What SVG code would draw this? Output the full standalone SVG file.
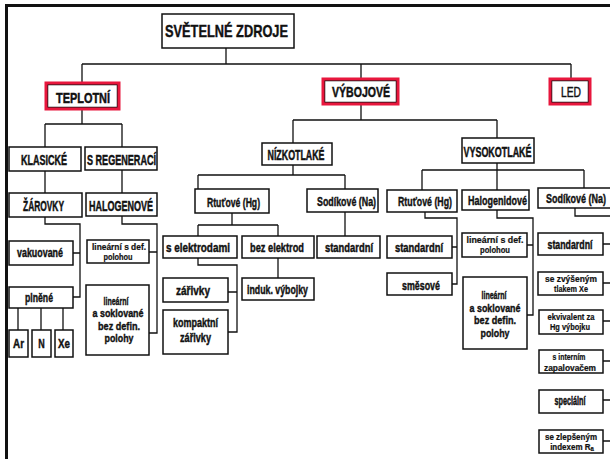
<svg xmlns="http://www.w3.org/2000/svg" width="610" height="459" viewBox="0 0 610 459">
<style>
.bg{fill:#fff}
.frame{fill:none;stroke:#111;stroke-width:3}
.box{fill:#fff;stroke:#111;stroke-width:1.5}
.red{fill:none;stroke:#e8173d;stroke-width:3}
.c{fill:none;stroke:#111;stroke-width:1.3}
text{font-family:"Liberation Sans",Arial,sans-serif;fill:#111;stroke:#111;stroke-width:0.3;text-anchor:middle;font-weight:bold}
.ti{font-size:12px}
.h{font-size:9px}
.t{font-size:9px}
.m{font-size:8.5px}
.s{font-size:8px;stroke-width:0.2}
.n{font-weight:normal}
</style>
<rect class="bg" x="0" y="0" width="610" height="459"/>
<path class="frame" d="M5,5.5 H610 M6.5,5 V459"/>

<g id="connectors">
<path class="c" d="M226,48 V64 M82,64 H571 M82,64 V83 M361,64 V79 M571,64 V79"/>
<path class="c" d="M82,109 V124 M45,124 H122 M45,124 V147 M122,124 V147 M45,171 V193 M122,170 V193"/>
<path class="c" d="M45,217 V224 H80 V297 H73 M80,253 H73 M18,308 V330 M41,308 V330 M63,308 V330"/>
<path class="c" d="M122,216 V224 H157 V333 H149 M157,252 H149"/>
<path class="c" d="M361,104 V120 M293,120 H497 M293,120 V143 M497,120 V138"/>
<path class="c" d="M293,165 V175 M198,175 H345 M198,175 V189 M345,175 V189"/>
<path class="c" d="M232,213 V225 M198,225 H278 M198,225 V236 M278,225 V236 M345,212 V236"/>
<path class="c" d="M198,258 V265 H237 V332 H228 M237,292 H228 M278,258 V278"/>
<path class="c" d="M497,163 V170 M422,170 H584 M422,170 V190 M497,170 V190 M584,170 V188"/>
<path class="c" d="M425,212 V218 H457 V284 H452 M457,247 H452"/>
<path class="c" d="M497,210 V218 H533 V315 H527 M533,245 H527"/>
<path class="c" d="M575,208 V216 H610 M603,244 H610 M603,283 H610 M603,321 H610 M603,361 H610 M603,400 H610 M603,441 H610"/>
</g>

<g id="svetelne-zdroje">
<rect class="box" x="162" y="14" width="132" height="34"/>
<text class="ti" transform="matrix(1,0,0,1.38,226.5,36.5)" textLength="123" lengthAdjust="spacingAndGlyphs">SVĚTELNÉ ZDROJE</text>
</g>

<g id="teplotni">
<rect class="box" x="47.5" y="84.5" width="70" height="23"/>
<rect class="red" x="46" y="83" width="73" height="26"/>
<text class="h" transform="matrix(1,0,0,1.55,83,103)" textLength="54" lengthAdjust="spacingAndGlyphs">TEPLOTNÍ</text>
</g>

<g id="vybojove">
<rect class="box" x="324.5" y="80.5" width="72" height="22"/>
<rect class="red" x="323" y="79" width="75" height="25"/>
<text class="h" transform="matrix(1,0,0,1.55,361,97)" textLength="58" lengthAdjust="spacingAndGlyphs">VÝBOJOVÉ</text>
</g>

<g id="led">
<rect class="box" x="551.5" y="80.5" width="37" height="22"/>
<rect class="red" x="550" y="79" width="40" height="25"/>
<text class="h n" transform="matrix(1,0,0,1.55,571,97)" textLength="20" lengthAdjust="spacingAndGlyphs">LED</text>
</g>

<g id="klasicke">
<rect class="box" x="9" y="147" width="72" height="24"/>
<text class="h" transform="matrix(1,0,0,1.55,44,164.5)" textLength="46" lengthAdjust="spacingAndGlyphs">KLASICKÉ</text>
</g>

<g id="s-regeneraci">
<rect class="box" x="85" y="147" width="72" height="23"/>
<text class="h" transform="matrix(1,0,0,1.55,121.5,164.5)" textLength="69" lengthAdjust="spacingAndGlyphs">S REGENERACÍ</text>
</g>

<g id="zarovky">
<rect class="box" x="9" y="193" width="73" height="24"/>
<text class="h" transform="matrix(1,0,0,1.55,43.5,211)" textLength="41" lengthAdjust="spacingAndGlyphs">ŽÁROVKY</text>
</g>

<g id="halogenove">
<rect class="box" x="86" y="193" width="71" height="23"/>
<text class="h" transform="matrix(1,0,0,1.55,121,211)" textLength="64" lengthAdjust="spacingAndGlyphs">HALOGENOVÉ</text>
</g>

<g id="vakuovane">
<rect class="box" x="9" y="241" width="64" height="24"/>
<text class="t" transform="matrix(1,0,0,1.5,40,257)" textLength="46" lengthAdjust="spacingAndGlyphs">vakuované</text>
</g>

<g id="plnene">
<rect class="box" x="9" y="287" width="64" height="21"/>
<text class="t" transform="matrix(1,0,0,1.5,39,302)" textLength="28" lengthAdjust="spacingAndGlyphs">plněné</text>
</g>

<g id="ar">
<rect class="box" x="9" y="330" width="19" height="27"/>
<text class="t" transform="matrix(1,0,0,1.5,18.5,348)" textLength="11" lengthAdjust="spacingAndGlyphs">Ar</text>
</g>
<g id="n">
<rect class="box" x="32" y="330" width="19" height="27"/>
<text class="t" transform="matrix(1,0,0,1.5,41.5,348)">N</text>
</g>
<g id="xe">
<rect class="box" x="55" y="330" width="18" height="27"/>
<text class="t" transform="matrix(1,0,0,1.5,64,348)" textLength="12" lengthAdjust="spacingAndGlyphs">Xe</text>
</g>

<g id="linearni-def-t">
<rect class="box" x="87" y="240" width="62" height="23"/>
<text class="s" transform="matrix(1,0,0,1.1,119,249.5)" textLength="54" lengthAdjust="spacingAndGlyphs">lineární s def.</text>
<text class="s" transform="matrix(1,0,0,1.1,118,259.8)" textLength="29" lengthAdjust="spacingAndGlyphs">polohou</text>
</g>

<g id="linearni-sokl-t">
<rect class="box" x="86" y="285" width="63" height="70"/>
<text class="m" transform="matrix(1,0,0,1.3,116,304.5)" textLength="25" lengthAdjust="spacingAndGlyphs">lineární</text>
<text class="m" transform="matrix(1,0,0,1.3,118,317)" textLength="51" lengthAdjust="spacingAndGlyphs">a soklované</text>
<text class="m" transform="matrix(1,0,0,1.3,119,329.5)" textLength="42" lengthAdjust="spacingAndGlyphs">bez defin.</text>
<text class="m" transform="matrix(1,0,0,1.3,119,342)" textLength="29" lengthAdjust="spacingAndGlyphs">polohy</text>
</g>

<g id="nizkotlake">
<rect class="box" x="262" y="143" width="70" height="22"/>
<text class="h" transform="matrix(1,0,0,1.55,296,159.5)" textLength="57" lengthAdjust="spacingAndGlyphs">NÍZKOTLAKÉ</text>
</g>

<g id="rtutove-nt">
<rect class="box" x="195" y="189" width="74" height="24"/>
<text class="t" transform="matrix(1,0,0,1.5,233.5,206.5)" textLength="53" lengthAdjust="spacingAndGlyphs">Rtuťové (Hg)</text>
</g>

<g id="sodikove-nt">
<rect class="box" x="307" y="189" width="71" height="23"/>
<text class="t" transform="matrix(1,0,0,1.5,346.5,205.5)" textLength="59" lengthAdjust="spacingAndGlyphs">Sodíkové (Na)</text>
</g>

<g id="s-elektrodami">
<rect class="box" x="163" y="236" width="74" height="22"/>
<text class="t" transform="matrix(1,0,0,1.5,198,252)" textLength="64" lengthAdjust="spacingAndGlyphs">s elektrodami</text>
</g>

<g id="bez-elektrod">
<rect class="box" x="242" y="236" width="72" height="22"/>
<text class="t" transform="matrix(1,0,0,1.5,277,252)" textLength="54" lengthAdjust="spacingAndGlyphs">bez elektrod</text>
</g>

<g id="standardni-nt">
<rect class="box" x="317" y="236" width="63" height="22"/>
<text class="t" transform="matrix(1,0,0,1.5,349,252)" textLength="48" lengthAdjust="spacingAndGlyphs">standardní</text>
</g>

<g id="zarivky">
<rect class="box" x="163" y="278" width="65" height="24"/>
<text class="t" transform="matrix(1,0,0,1.5,193,294.5)" textLength="34" lengthAdjust="spacingAndGlyphs">zářivky</text>
</g>

<g id="induk-vybojky">
<rect class="box" x="242" y="278" width="72" height="22"/>
<text class="t" transform="matrix(1,0,0,1.5,277.5,294)" textLength="61" lengthAdjust="spacingAndGlyphs">induk. výbojky</text>
</g>

<g id="kompaktni-zarivky">
<rect class="box" x="163" y="310" width="65" height="44"/>
<text class="t" transform="matrix(1,0,0,1.5,195.5,327)" textLength="45" lengthAdjust="spacingAndGlyphs">kompaktní</text>
<text class="t" transform="matrix(1,0,0,1.5,195.5,341.5)" textLength="31" lengthAdjust="spacingAndGlyphs">zářivky</text>
</g>

<g id="vysokotlake">
<rect class="box" x="462" y="138" width="72" height="25"/>
<text class="h" transform="matrix(1,0,0,1.55,497.5,156.5)" textLength="68" lengthAdjust="spacingAndGlyphs">VYSOKOTLAKÉ</text>
</g>

<g id="rtutove-vt">
<rect class="box" x="387" y="190" width="70" height="22"/>
<text class="t" transform="matrix(1,0,0,1.5,425,205.5)" textLength="54" lengthAdjust="spacingAndGlyphs">Rtuťové (Hg)</text>
</g>

<g id="halogenidove">
<rect class="box" x="462" y="190" width="67" height="20"/>
<text class="t" transform="matrix(1,0,0,1.5,497.5,204.5)" textLength="59" lengthAdjust="spacingAndGlyphs">Halogenidové</text>
</g>

<g id="sodikove-vt">
<path class="box" d="M611,188 H538 V208 H611"/>
<text class="t" transform="matrix(1,0,0,1.5,546,203)" style="text-anchor:start" textLength="60" lengthAdjust="spacingAndGlyphs">Sodíkové (Na)</text>
</g>

<g id="standardni-vt">
<rect class="box" x="387" y="236" width="65" height="22"/>
<text class="t" transform="matrix(1,0,0,1.5,419,252)" textLength="48" lengthAdjust="spacingAndGlyphs">standardní</text>
</g>

<g id="smesove">
<rect class="box" x="387" y="273" width="65" height="22"/>
<text class="t" transform="matrix(1,0,0,1.5,421,289.5)" textLength="38" lengthAdjust="spacingAndGlyphs">směsové</text>
</g>

<g id="linearni-def-v">
<rect class="box" x="462" y="233" width="65" height="24"/>
<text class="s" transform="matrix(1,0,0,1.1,495,243)" textLength="57" lengthAdjust="spacingAndGlyphs">lineární s def.</text>
<text class="s" transform="matrix(1,0,0,1.1,495,253.3)" textLength="30" lengthAdjust="spacingAndGlyphs">polohou</text>
</g>

<g id="linearni-sokl-v">
<rect class="box" x="463" y="277" width="64" height="72"/>
<text class="m" transform="matrix(1,0,0,1.3,494,299)" textLength="25" lengthAdjust="spacingAndGlyphs">lineární</text>
<text class="m" transform="matrix(1,0,0,1.3,495,311.5)" textLength="51" lengthAdjust="spacingAndGlyphs">a soklované</text>
<text class="m" transform="matrix(1,0,0,1.3,495,324)" textLength="42" lengthAdjust="spacingAndGlyphs">bez defin.</text>
<text class="m" transform="matrix(1,0,0,1.3,495,336.5)" textLength="29" lengthAdjust="spacingAndGlyphs">polohy</text>
</g>

<g id="standardni-na">
<rect class="box" x="538" y="233" width="65" height="22"/>
<text class="t" transform="matrix(1,0,0,1.5,570,249)" textLength="45" lengthAdjust="spacingAndGlyphs">standardní</text>
</g>

<g id="zvysenym-tlakem">
<rect class="box" x="538" y="272" width="65" height="23"/>
<text class="s" transform="matrix(1,0,0,1.1,571,282)" textLength="52" lengthAdjust="spacingAndGlyphs">se zvýšeným</text>
<text class="s" transform="matrix(1,0,0,1.1,571,292.3)" textLength="34" lengthAdjust="spacingAndGlyphs">tlakem Xe</text>
</g>

<g id="ekvivalent">
<rect class="box" x="539" y="310" width="64" height="24"/>
<text class="s" transform="matrix(1,0,0,1.1,571,320)" textLength="47" lengthAdjust="spacingAndGlyphs">ekvivalent za</text>
<text class="s" transform="matrix(1,0,0,1.1,570,330.3)" textLength="40" lengthAdjust="spacingAndGlyphs">Hg výbojku</text>
</g>

<g id="interni-zapalovac">
<rect class="box" x="539" y="350" width="64" height="23"/>
<text class="s" transform="matrix(1,0,0,1.1,569,360)" textLength="33" lengthAdjust="spacingAndGlyphs">s interním</text>
<text class="s" transform="matrix(1,0,0,1.1,570,370.5)" textLength="52" lengthAdjust="spacingAndGlyphs">zapalovačem</text>
</g>

<g id="specialni">
<rect class="box" x="539" y="390" width="64" height="23"/>
<text class="t" style="font-size:7.5px" transform="matrix(1,0,0,1.6,570,405)" textLength="31" lengthAdjust="spacingAndGlyphs">speciální</text>
</g>

<g id="zlepsenym-indexem">
<rect class="box" x="539" y="430" width="64" height="23"/>
<text class="s" transform="matrix(1,0,0,1.1,571,440)" textLength="52" lengthAdjust="spacingAndGlyphs">se zlepšeným</text>
<text class="s" transform="matrix(1,0,0,1.1,572,450.3)">indexem R<tspan style="font-size:6px" dy="1">a</tspan></text>
</g>
</svg>
